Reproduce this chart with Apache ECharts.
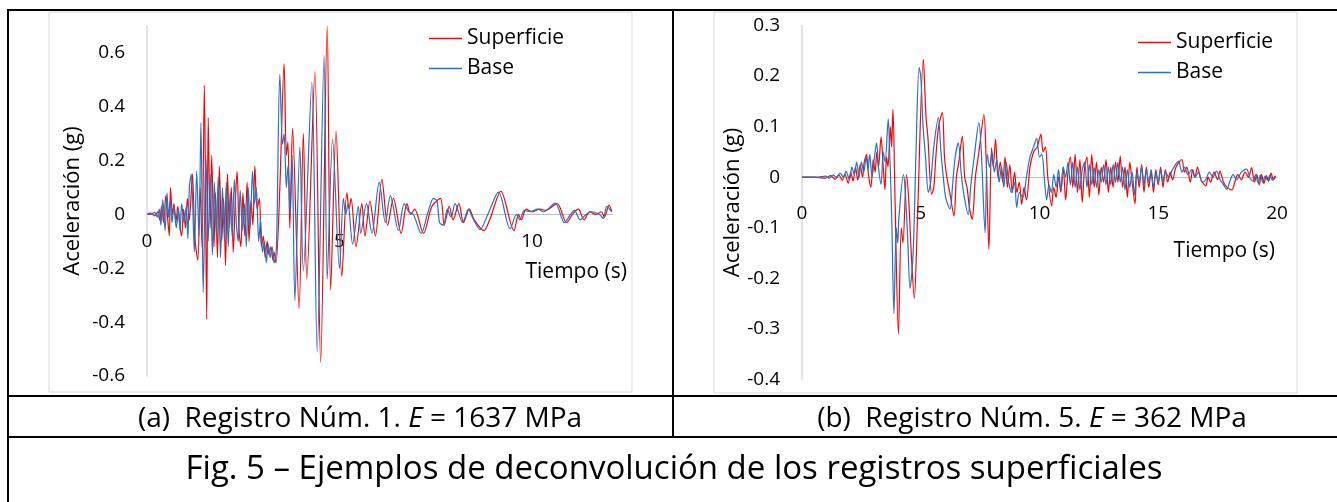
<!DOCTYPE html>
<html>
<head>
<meta charset="utf-8">
<script src="https://cdn.jsdelivr.net/npm/echarts@6/dist/echarts.min.js"></script>
<style>
  html, body { margin: 0; padding: 0; background: #fff; }
  #chart { width: 1337px; height: 502px; }
</style>
</head>
<body>
<div id="chart"></div>
<script>
// (a) Registro Núm. 1 : [tiempo (s), aceleración (g)]
var superficieA = [
  [0, 0], [0.1, 0.005], [0.2, -0.005], [0.28, 0.01], [0.33, -0.02], [0.38, 0.03], [0.43, -0.03],
  [0.49, 0.07], [0.54, -0.02], [0.58, -0.08], [0.61, 0.10], [0.66, 0.0], [0.70, 0.04], [0.75, -0.03],
  [0.80, 0.03], [0.85, -0.04], [0.90, -0.08], [0.95, 0.02], [1.00, -0.05], [1.05, 0.06], [1.10, -0.02],
  [1.18, 0.15], [1.24, -0.08], [1.32, -0.17], [1.38, 0.10], [1.43, -0.12], [1.49, 0.48], [1.55, -0.39],
  [1.59, 0.36], [1.64, -0.05], [1.68, 0.22], [1.74, -0.12], [1.78, 0.08], [1.83, -0.16], [1.88, 0.18],
  [1.94, -0.10], [1.99, 0.06], [2.04, -0.19], [2.09, 0.15], [2.14, -0.05], [2.19, 0.10], [2.24, -0.14],
  [2.29, 0.04], [2.34, 0.16], [2.39, -0.06], [2.44, -0.12], [2.49, 0.08], [2.54, -0.08], [2.60, 0.12],
  [2.65, -0.10], [2.70, 0.05], [2.75, -0.04], [2.80, 0.18], [2.86, 0.02], [2.92, 0.06], [2.97, -0.12],
  [3.02, -0.08], [3.07, -0.16], [3.12, -0.10], [3.17, -0.15], [3.22, -0.12], [3.27, -0.17], [3.30, -0.14],
  [3.35, -0.18], [3.45, 0.10], [3.56, 0.56], [3.62, 0.22], [3.66, 0.27], [3.71, -0.05], [3.78, 0.32],
  [3.95, -0.35], [4.06, 0.30], [4.15, -0.24], [4.36, 0.53], [4.51, -0.55], [4.68, 0.70], [4.77, -0.28],
  [4.91, 0.31], [5.06, -0.23], [5.19, 0.08], [5.25, 0.02], [5.30, 0.06], [5.43, -0.12], [5.58, 0.04],
  [5.66, -0.08], [5.79, 0.05], [5.93, -0.08], [6.10, 0.13], [6.25, -0.04], [6.40, 0.06], [6.60, -0.07],
  [6.75, 0.04], [6.85, 0.0], [6.95, 0.02], [7.18, -0.07], [7.40, 0.03], [7.62, 0.06], [7.72, -0.04],
  [7.85, 0.03], [7.95, -0.02], [8.10, 0.04], [8.22, -0.03], [8.37, 0.02], [8.50, -0.02], [8.75, -0.06],
  [8.90, -0.02], [9.19, 0.086], [9.53, -0.06], [9.65, 0.0], [9.72, -0.02], [9.85, 0.02], [10.0, 0.01],
  [10.2, 0.02], [10.35, 0.015], [10.65, 0.04], [10.9, -0.03], [11.05, 0.0], [11.2, 0.02], [11.35, -0.02],
  [11.5, 0.01], [11.65, 0.0], [11.8, 0.01], [11.88, -0.01], [12.0, 0.035], [12.07, 0.01]
];
var baseA = [
  [0, 0], [0.1, 0.0], [0.2, 0.008], [0.27, -0.01], [0.32, 0.02], [0.36, -0.04], [0.41, 0.055],
  [0.47, -0.06], [0.52, 0.08], [0.56, -0.01], [0.60, 0.05], [0.65, -0.03], [0.70, 0.03], [0.76, -0.05],
  [0.82, 0.02], [0.86, -0.06], [0.90, 0.04], [0.96, -0.03], [1.02, 0.03], [1.06, -0.09], [1.10, 0.10],
  [1.15, 0.15], [1.23, -0.14], [1.29, 0.16], [1.35, -0.08], [1.40, 0.34], [1.46, -0.29], [1.53, 0.22],
  [1.59, -0.10], [1.64, 0.15], [1.70, -0.15], [1.75, 0.12], [1.80, -0.08], [1.85, 0.14], [1.91, -0.16],
  [1.96, 0.10], [2.01, -0.10], [2.06, 0.12], [2.11, -0.12], [2.16, 0.08], [2.21, -0.08], [2.27, 0.13],
  [2.32, -0.03], [2.37, -0.10], [2.42, 0.09], [2.48, -0.06], [2.53, 0.04], [2.58, -0.12], [2.63, 0.10],
  [2.68, -0.05], [2.74, 0.16], [2.79, 0.04], [2.84, 0.10], [2.90, -0.10], [2.95, -0.02], [3.00, -0.14],
  [3.05, -0.10], [3.10, -0.18], [3.15, -0.11], [3.20, -0.16], [3.25, -0.12], [3.30, -0.18], [3.36, -0.13],
  [3.45, 0.52], [3.52, 0.26], [3.56, 0.30], [3.62, 0.10], [3.66, 0.18], [3.72, 0.0], [3.77, 0.22],
  [3.84, -0.32], [3.97, 0.25], [4.06, -0.21], [4.28, 0.49], [4.42, -0.51], [4.60, 0.59], [4.68, -0.24],
  [4.82, 0.28], [5.00, -0.20], [5.10, 0.06], [5.16, 0.0], [5.22, 0.04], [5.34, -0.11], [5.49, 0.03],
  [5.55, -0.07], [5.70, 0.04], [5.84, -0.07], [6.03, 0.12], [6.19, -0.03], [6.32, 0.07], [6.53, -0.06],
  [6.68, 0.04], [6.80, 0.01], [6.92, 0.0], [7.12, -0.07], [7.30, 0.01], [7.44, 0.06], [7.53, 0.05],
  [7.60, -0.03], [7.70, -0.04], [7.80, 0.02], [7.90, -0.01], [8.00, 0.04], [8.20, -0.03], [8.35, 0.02],
  [8.45, -0.01], [8.65, -0.056], [8.85, 0.0], [9.13, 0.083], [9.43, -0.053], [9.60, 0.0], [9.68, -0.02],
  [9.80, 0.015], [9.95, 0.01], [10.15, 0.02], [10.3, 0.01], [10.6, 0.042], [10.84, -0.03], [11.0, 0.0],
  [11.1, 0.015], [11.25, -0.02], [11.4, 0.0], [11.55, 0.01], [11.75, 0.0], [11.85, -0.015], [11.94, 0.03],
  [12.07, 0.01]
];

// (b) Registro Núm. 5 : [tiempo (s), aceleración (g)]
var superficieB = [
  [0, 0], [0.5, 0.0], [1.0, -0.002], [1.2, 0.003], [1.4, -0.004], [1.55, 0.004], [1.7, -0.006],
  [1.8, 0.006], [1.95, -0.012], [2.05, 0.01], [2.15, -0.008], [2.25, 0.02], [2.35, -0.006], [2.45, 0.025],
  [2.55, 0.0], [2.62, 0.03], [2.72, 0.045], [2.8, 0.005], [2.9, -0.02], [3.0, 0.035], [3.08, 0.01],
  [3.15, 0.05], [3.22, 0.02], [3.33, 0.08], [3.42, 0.02], [3.49, -0.025], [3.56, 0.04], [3.62, 0.02],
  [3.72, 0.10], [3.77, 0.06], [3.83, 0.134], [3.92, -0.05], [4.06, -0.31], [4.18, -0.1], [4.25, -0.13],
  [4.4, 0.005], [4.5, -0.05], [4.6, -0.15], [4.73, -0.24], [4.85, -0.10], [5.11, 0.233], [5.22, 0.12],
  [5.3, 0.08], [5.46, -0.034], [5.55, -0.02], [5.62, 0.03], [5.75, 0.10], [5.91, 0.128], [6.0, 0.04],
  [6.1, 0.0], [6.22, -0.03], [6.4, -0.077], [6.5, 0.0], [6.6, 0.03], [6.75, 0.081], [6.85, 0.0],
  [6.95, -0.02], [7.05, -0.06], [7.17, -0.083], [7.3, 0.0], [7.45, 0.05], [7.66, 0.124], [7.75, 0.04],
  [7.87, -0.143], [7.98, 0.058], [8.05, 0.02], [8.15, 0.075], [8.25, 0.0], [8.35, 0.03], [8.45, -0.01],
  [8.55, 0.04], [8.65, -0.02], [8.75, 0.025], [8.85, -0.03], [8.95, 0.01], [9.05, -0.03], [9.15, -0.01],
  [9.25, -0.054], [9.35, -0.02], [9.45, -0.045], [9.6, 0.02], [9.75, 0.05], [9.9, 0.06], [10.06, 0.085],
  [10.15, 0.05], [10.25, 0.06], [10.35, 0.0], [10.51, -0.057], [10.6, -0.02], [10.7, -0.04], [10.8, 0.0],
  [10.9, -0.03], [11.0, 0.02], [11.1, -0.045], [11.2, 0.01], [11.3, 0.04], [11.4, -0.02], [11.5, 0.045],
  [11.6, -0.03], [11.7, 0.035], [11.8, -0.05], [11.9, 0.02], [12.0, 0.04], [12.1, -0.04], [12.2, 0.045],
  [12.3, -0.02], [12.4, 0.03], [12.5, -0.035], [12.6, 0.02], [12.7, -0.01], [12.8, 0.035], [12.9, -0.03],
  [13.0, 0.02], [13.1, -0.02], [13.2, 0.03], [13.3, -0.01], [13.4, 0.042], [13.5, -0.02], [13.6, 0.02],
  [13.7, -0.04], [13.8, 0.03], [13.9, -0.01], [14.02, -0.053], [14.1, 0.02], [14.2, -0.02], [14.3, 0.025],
  [14.4, -0.03], [14.5, 0.02], [14.6, -0.02], [14.7, 0.01], [14.8, -0.03], [14.9, 0.015], [15.0, -0.015],
  [15.1, 0.02], [15.2, -0.02], [15.3, 0.015], [15.4, -0.01], [15.5, 0.01], [15.6, -0.005], [15.75, 0.02],
  [15.99, 0.035], [16.1, 0.01], [16.2, 0.02], [16.35, -0.01], [16.45, 0.015], [16.55, 0.0], [16.65, 0.02],
  [16.8, -0.005], [17.0, -0.017], [17.1, 0.0], [17.2, -0.01], [17.35, 0.01], [17.5, -0.005], [17.6, 0.012],
  [17.75, -0.01], [17.9, -0.02], [18.1, -0.025], [18.25, -0.005], [18.35, 0.005], [18.5, -0.005],
  [18.65, 0.01], [18.8, 0.0], [18.93, 0.019], [19.05, -0.01], [19.15, 0.005], [19.25, -0.015],
  [19.35, 0.005], [19.45, -0.012], [19.55, 0.003], [19.65, -0.008], [19.75, 0.008], [19.85, -0.005],
  [19.95, 0.003]
];
var baseB = [
  [0, 0], [0.6, 0.0], [1.0, 0.002], [1.15, -0.002], [1.3, 0.004], [1.45, 0.0], [1.6, 0.008], [1.75, 0.0],
  [1.85, 0.012], [2.0, -0.005], [2.1, 0.02], [2.2, 0.005], [2.3, 0.03], [2.4, 0.0], [2.5, 0.03], [2.6, 0.01],
  [2.7, 0.04], [2.78, 0.015], [2.85, 0.045], [2.95, 0.0], [3.05, 0.04], [3.14, 0.068], [3.22, 0.02],
  [3.33, -0.014], [3.42, 0.05], [3.5, 0.03], [3.63, 0.115], [3.7, 0.04], [3.78, -0.083], [3.87, -0.27],
  [3.97, -0.1], [4.03, -0.13], [4.08, -0.08], [4.27, 0.005], [4.35, -0.03], [4.45, -0.12], [4.55, -0.22],
  [4.68, -0.15], [4.8, 0.05], [4.93, 0.217], [5.0, 0.2], [5.1, 0.1], [5.2, 0.04], [5.32, -0.03],
  [5.42, -0.01], [5.55, 0.06], [5.74, 0.118], [5.85, 0.05], [5.95, 0.0], [6.05, -0.04], [6.23, -0.063],
  [6.35, -0.01], [6.45, 0.04], [6.58, 0.068], [6.7, 0.01], [6.8, -0.03], [7.0, -0.074], [7.1, -0.02],
  [7.25, 0.04], [7.45, 0.108], [7.55, 0.05], [7.71, -0.11], [7.8, 0.045], [7.9, 0.02], [8.0, 0.05],
  [8.1, 0.01], [8.2, 0.035], [8.3, -0.01], [8.4, 0.02], [8.5, -0.02], [8.6, 0.03], [8.7, -0.01],
  [8.83, -0.03], [8.95, -0.01], [9.04, -0.06], [9.15, -0.03], [9.3, -0.04], [9.45, 0.0], [9.6, 0.04],
  [9.75, 0.06], [9.88, 0.077], [10.0, 0.04], [10.1, 0.045], [10.2, 0.0], [10.3, -0.045], [10.4, -0.015],
  [10.5, -0.03], [10.6, 0.005], [10.7, -0.02], [10.8, 0.015], [10.9, -0.025], [11.0, 0.02], [11.1, 0.0],
  [11.2, 0.03], [11.3, -0.015], [11.4, 0.03], [11.5, -0.02], [11.6, 0.02], [11.7, -0.025], [11.8, 0.015],
  [11.9, 0.03], [12.0, -0.02], [12.1, 0.025], [12.2, -0.015], [12.3, 0.02], [12.4, -0.02], [12.5, 0.015],
  [12.6, -0.01], [12.7, 0.025], [12.8, -0.015], [12.9, 0.02], [13.0, -0.015], [13.1, 0.025], [13.2, -0.01],
  [13.3, 0.03], [13.4, -0.01], [13.5, 0.02], [13.6, -0.025], [13.7, 0.015], [13.8, -0.02], [13.9, 0.01],
  [14.0, -0.035], [14.1, 0.01], [14.2, -0.01], [14.3, 0.02], [14.4, -0.015], [14.5, 0.015], [14.6, -0.01],
  [14.7, 0.015], [14.8, -0.02], [14.9, 0.01], [15.0, -0.01], [15.1, 0.015], [15.2, -0.01], [15.3, 0.01],
  [15.45, 0.0], [15.6, 0.015], [15.85, 0.032], [16.0, 0.01], [16.1, 0.02], [16.25, 0.005], [16.4, 0.015],
  [16.55, 0.0], [16.7, 0.01], [16.85, -0.01], [17.0, -0.005], [17.15, 0.01], [17.3, 0.0], [17.45, 0.012],
  [17.6, -0.005], [17.75, -0.015], [17.88, -0.024], [18.0, -0.01], [18.15, 0.005], [18.3, -0.005],
  [18.5, 0.01], [18.72, 0.016], [18.85, 0.0], [19.0, -0.008], [19.1, 0.005], [19.2, -0.01], [19.3, 0.004],
  [19.4, -0.01], [19.5, 0.002], [19.6, -0.006], [19.7, 0.004], [19.8, -0.006], [19.9, 0.002]
];

var seriesNames = ['Superficie', 'Base'];
var seriesColors = ['#ff0000', '#1f74c4'];
var xAxisTitle = 'Tiempo (s)';
var yAxisTitle = 'Aceleración (g)';
var captionA = ['(a)  Registro Núm. 1. ', 'E', ' = 1637 MPa'];
var captionB = ['(b)  Registro Núm. 5. ', 'E', ' = 362 MPa'];
var figCaption = 'Fig. 5 – Ejemplos de deconvolución de los registros superficiales';

var font = 'Open Sans';
var chart = echarts.init(document.getElementById('chart'));

// eje X colocado sobre la línea de cero (offset negativo desde el borde inferior)
function xAxisOf(grid, max, offset, gap, pad, margin) {
  return {
    gridIndex: grid, type: 'value', min: 0, max: max, interval: 5, offset: offset,
    axisLine: { onZero: false, lineStyle: { color: '#bfbfbf', width: 1 } },
    axisTick: { show: false },
    splitLine: { show: false },
    axisLabel: { fontSize: 19, color: '#000', fontFamily: font, margin: margin, showMaxLabel: max % 5 === 0 },
    name: xAxisTitle, nameLocation: 'end', nameGap: gap,
    nameTextStyle: { fontSize: 21, color: '#000', fontFamily: font, align: 'right', verticalAlign: 'top', padding: [pad, 0, 0, 0] }
  };
}
function yAxisOf(grid, min, max, interval, gap, showMax) {
  return {
    gridIndex: grid, type: 'value', min: min, max: max, interval: interval,
    axisLine: { show: true, lineStyle: { color: '#d9d9d9', width: 1.5 } },
    axisTick: { show: false },
    splitLine: { show: false },
    axisLabel: { fontSize: 19, color: '#000', fontFamily: font, margin: 22, showMaxLabel: showMax },
    name: yAxisTitle, nameLocation: 'middle', nameGap: gap,
    nameTextStyle: { fontSize: 22, color: '#000', fontFamily: font }
  };
}
function lineOf(name, color, grid, data) {
  return {
    type: 'line', name: name, xAxisIndex: grid, yAxisIndex: grid, data: data,
    showSymbol: false, symbol: 'none', smooth: 0.3,
    lineStyle: { color: color, width: 1.2 }, itemStyle: { color: color }
  };
}
function legendOf(left, top, gap) {
  return {
    orient: 'vertical', left: left, top: top, itemGap: gap, icon: 'rect',
    itemWidth: 33, itemHeight: 1.5, data: seriesNames,
    textStyle: { fontSize: 21, color: '#000', fontFamily: font }
  };
}
function captionText(x, y, parts, size) {
  return {
    type: 'text', x: x, y: y,
    style: {
      text: '{n|' + parts[0] + '}{i|' + parts[1] + '}{n|' + parts[2] + '}',
      align: 'center', verticalAlign: 'middle',
      rich: {
        n: { fontSize: size, fontFamily: font, fill: '#000' },
        i: { fontSize: size, fontFamily: font, fontStyle: 'italic', fill: '#000' }
      }
    }
  };
}
function hline(y, x1, x2) {
  return { type: 'line', shape: { x1: x1, y1: y, x2: x2, y2: y }, style: { stroke: '#000', lineWidth: 2 } };
}
function vline(x, y1, y2) {
  return { type: 'line', shape: { x1: x, y1: y1, x2: x, y2: y2 }, style: { stroke: '#000', lineWidth: 2 } };
}

chart.setOption({
  animation: false,
  backgroundColor: '#fff',
  textStyle: { fontFamily: font },
  grid: [
    { left: 147, top: 26, width: 465.9, height: 350 },
    { left: 802, top: 25.5, width: 475, height: 354 }
  ],
  xAxis: [xAxisOf(0, 12.1, -161.5, 14, 47, 18), xAxisOf(1, 20, -202.3, -2, 63, 27)],
  yAxis: [yAxisOf(0, -0.6, 0.7, 0.2, 63, false), yAxisOf(1, -0.4, 0.3, 0.1, 52, true)],
  legend: [legendOf(424, 23, 9), legendOf(1133, 27, 9)],
  graphic: [
    { type: 'rect', shape: { x: 49, y: 12, width: 583, height: 380 }, style: { fill: 'none', stroke: '#d9d9d9', lineWidth: 1 }, z: -1 },
    { type: 'rect', shape: { x: 714, y: 12, width: 583, height: 381 }, style: { fill: 'none', stroke: '#d9d9d9', lineWidth: 1 }, z: -1 },
    hline(10, 7, 1337),
    hline(396, 7, 1337),
    hline(437, 7, 1337),
    vline(8, 10, 502),
    vline(673, 10, 437),
    captionText(360, 419, captionA, 28),
    captionText(1032, 419, captionB, 28),
    { type: 'text', x: 674, y: 470, style: { text: figCaption, align: 'center', verticalAlign: 'middle', fontSize: 33, fontFamily: font, fill: '#000' } }
  ],
  series: [
    lineOf(seriesNames[0], seriesColors[0], 0, superficieA),
    lineOf(seriesNames[1], seriesColors[1], 0, baseA),
    lineOf(seriesNames[0], seriesColors[0], 1, superficieB),
    lineOf(seriesNames[1], seriesColors[1], 1, baseB)
  ]
});
</script>
</body>
</html>
